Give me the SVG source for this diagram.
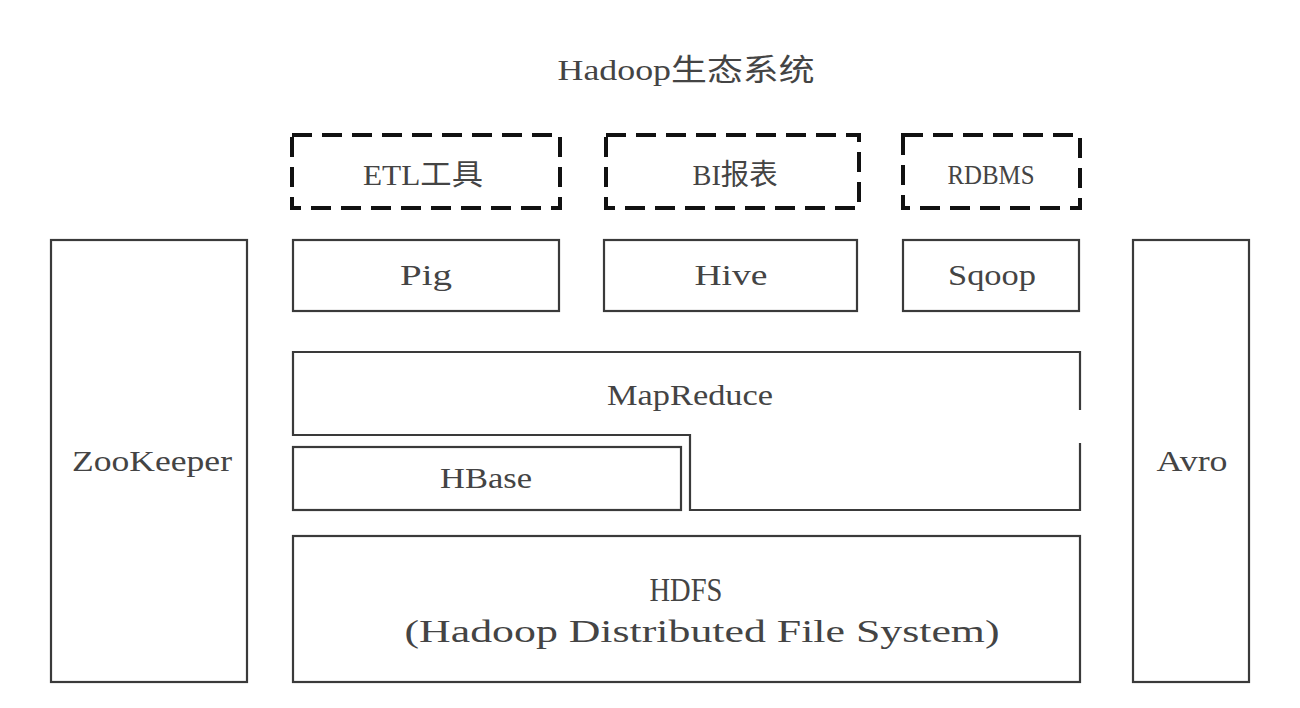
<svg xmlns="http://www.w3.org/2000/svg" width="1300" height="708" viewBox="0 0 1300 708">
<style>
.box{fill:none;stroke:#3a3a3a;stroke-width:2.2}
.dash{fill:none;stroke:#111;stroke-width:4;stroke-dasharray:20 10}
text{font-family:"Liberation Serif","Noto Sans CJK SC",serif;font-size:29px;fill:#444;text-anchor:middle}
</style>
<rect width="1300" height="708" fill="#fff"/>
<text x="686" y="80" style="font-size:30px" textLength="257" lengthAdjust="spacingAndGlyphs">Hadoop生态系统</text>
<g id="etl"><rect class="dash" x="292" y="135" width="268" height="73"/><text x="423" y="185" textLength="120" lengthAdjust="spacingAndGlyphs">ETL工具</text></g>
<g id="bi"><rect class="dash" x="606" y="135" width="253" height="73"/><text x="735" y="185" textLength="85" lengthAdjust="spacingAndGlyphs">BI报表</text></g>
<g id="rdbms"><rect class="dash" x="903" y="135" width="177" height="73"/><text x="991" y="184" style="font-size:27px" textLength="87" lengthAdjust="spacingAndGlyphs">RDBMS</text></g>
<g id="pig"><rect class="box" x="293" y="240" width="266" height="71"/><text x="426" y="285" textLength="52" lengthAdjust="spacingAndGlyphs">Pig</text></g>
<g id="hive"><rect class="box" x="604" y="240" width="253" height="71"/><text x="731" y="285" textLength="73" lengthAdjust="spacingAndGlyphs">Hive</text></g>
<g id="sqoop"><rect class="box" x="903" y="240" width="176" height="71"/><text x="992" y="285" textLength="88" lengthAdjust="spacingAndGlyphs">Sqoop</text></g>
<g id="mapreduce"><path class="box" d="M1080 410 V352 H293 V435 H690 V510 H1080 V443"/><text x="690" y="405" textLength="166" lengthAdjust="spacingAndGlyphs">MapReduce</text></g>
<g id="hbase"><rect class="box" x="293" y="447" width="388" height="63"/><text x="486" y="488" textLength="92" lengthAdjust="spacingAndGlyphs">HBase</text></g>
<g id="hdfs"><rect class="box" x="293" y="536" width="787" height="146"/><text x="686" y="601" style="font-size:33px" textLength="73" lengthAdjust="spacingAndGlyphs">HDFS</text><text x="702" y="642" style="font-size:31px" textLength="595" lengthAdjust="spacingAndGlyphs">(Hadoop Distributed File System)</text></g>
<g id="zookeeper"><rect class="box" x="51" y="240" width="196" height="442"/><text x="152" y="471" textLength="160" lengthAdjust="spacingAndGlyphs">ZooKeeper</text></g>
<g id="avro"><rect class="box" x="1133" y="240" width="116" height="442"/><text x="1192" y="471" textLength="71" lengthAdjust="spacingAndGlyphs">Avro</text></g>
<g id="connectors"></g>
</svg>
